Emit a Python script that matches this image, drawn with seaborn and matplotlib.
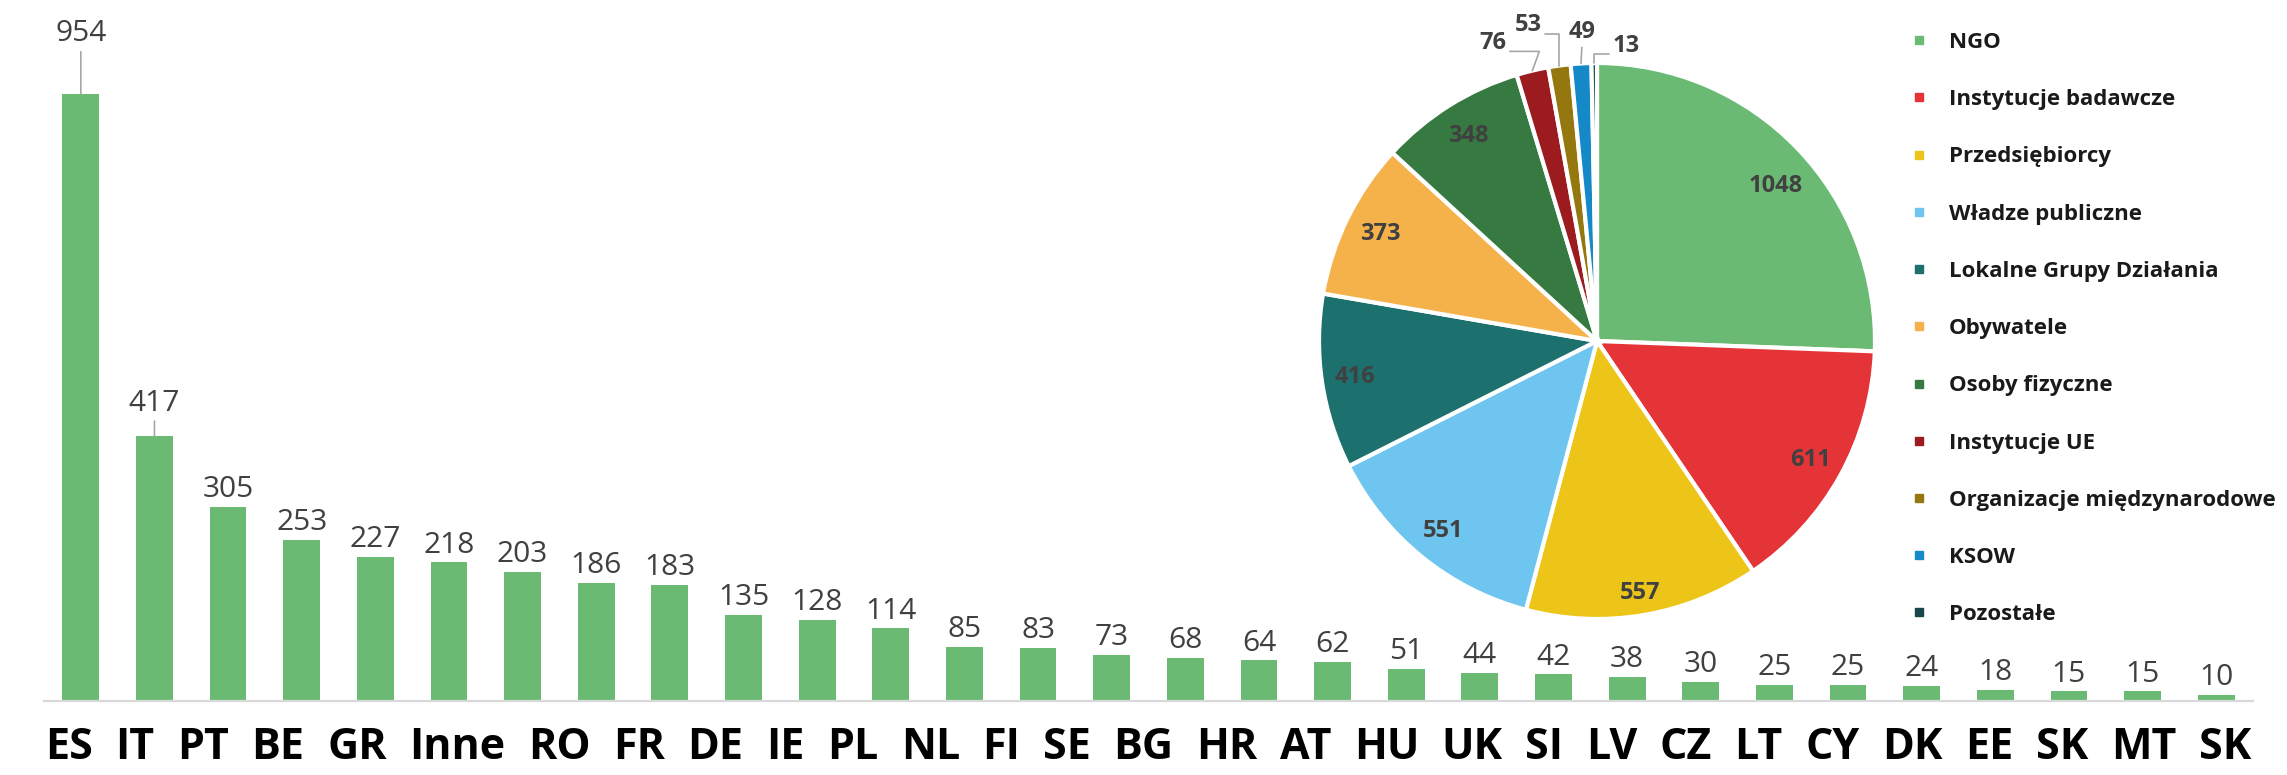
import numpy as np
import pandas as pd
import matplotlib
matplotlib.use("Agg")
import matplotlib.pyplot as plt
from matplotlib.lines import Line2D
import seaborn as sns

# ---------------- data ----------------
# 30 bars, 29 country labels (as in the source chart)
country_labels = ["ES", "IT", "PT", "BE", "GR", "Inne", "RO", "FR", "DE", "IE", "PL", "NL",
                  "FI", "SE", "BG", "HR", "AT", "HU", "UK", "SI", "LV", "CZ", "LT", "CY",
                  "DK", "EE", "SK", "MT", "SK"]
bar_values = [954, 417, 305, 253, 227, 218, 203, 186, 183, 135, 128, 114,
              85, 83, 73, 68, 64, 62, 51, 44, 42, 38, 30, 25, 25, 24, 18, 15, 15, 10]

pie_labels = ["NGO", "Instytucje badawcze", "Przedsiębiorcy", "Władze publiczne",
              "Lokalne Grupy Działania", "Obywatele", "Osoby fizyczne", "Instytucje UE",
              "Organizacje międzynarodowe", "KSOW", "Pozostałe"]
pie_values = [1048, 611, 557, 551, 416, 373, 348, 76, 53, 49, 13]
pie_colors = ["#6BBA74", "#E43438", "#EDC418", "#6EC6F0", "#1C706E", "#F5B24A",
              "#367A41", "#9B1B1E", "#94770E", "#1588C7", "#17474A"]
# ---------------------------------------

sns.set_theme(style="white")
plt.rcParams["font.family"] = ["Open Sans", "DejaVu Sans"]

W, H = 2287, 775
fig = plt.figure(figsize=(W / 100, H / 100), dpi=100)

BAR_COLOR = "#6BBA74"
LABEL_COLOR = "#404040"

# ---------- bar chart ----------
n_bars = len(bar_values)
ax = fig.add_axes([44 / W, 74 / H, 2209 / W, 701 / H])
df = pd.DataFrame({"idx": list(range(n_bars)), "value": bar_values})
sns.barplot(data=df, x="idx", y="value", color=BAR_COLOR, saturation=1,
            width=0.5, ax=ax, linewidth=0)
ax.set_xlim(-0.5, n_bars - 0.5)
ax.set_ylim(0, 1102)
ax.set_xticks(np.arange(len(country_labels)))
ax.set_xticklabels(country_labels, fontsize=31, fontweight="bold", color="black")
ax.tick_params(axis="x", length=0, pad=18)
ax.set_yticks([])
ax.set_xlabel("")
ax.set_ylabel("")
for s in ["top", "right", "left"]:
    ax.spines[s].set_visible(False)
ax.spines["bottom"].set_color("#D9D9D9")
ax.spines["bottom"].set_linewidth(1.6)

# The country names form one row of text with equal gaps, spanning the bars:
# lay the tick labels out by their rendered widths.
fig.canvas.draw()
renderer = fig.canvas.get_renderer()
widths = np.array([t.get_window_extent(renderer).width for t in ax.get_xticklabels()])
first_px, last_px = 69.0, 2225.0
inner = widths.sum() - widths[0] / 2 - widths[-1] / 2
gap = ((last_px - first_px) - inner) / (len(widths) - 1)
centers = [first_px]
for a, b in zip(widths[:-1], widths[1:]):
    centers.append(centers[-1] + a / 2 + gap + b / 2)
inv = ax.transData.inverted()
tick_pos = [inv.transform((c, 0))[0] for c in centers]
ax.set_xticks(tick_pos)
ax.set_xticklabels(country_labels, fontsize=31, fontweight="bold", color="black")

LEADER_LIFT = {0: 38, 1: 18}   # points, for labels moved up with a leader line
for i, v in enumerate(bar_values):
    if i in LEADER_LIFT:
        ax.annotate(str(v), xy=(i, v), xytext=(0, LEADER_LIFT[i]), textcoords="offset points",
                    ha="center", va="baseline", fontsize=21.5, color=LABEL_COLOR,
                    arrowprops=dict(arrowstyle="-", color="#A6A6A6", lw=1.2,
                                    shrinkA=0, shrinkB=0))
    else:
        ax.annotate(str(v), xy=(i, v), xytext=(0, 7), textcoords="offset points",
                    ha="center", va="baseline", fontsize=21.5, color=LABEL_COLOR)

# ---------- pie chart ----------
R = 278
cx, cy = 1597, 341
pax = fig.add_axes([(cx - R) / W, (H - cy - R) / H, 2 * R / W, 2 * R / H])
wedges, _ = pax.pie(pie_values, colors=pie_colors, startangle=90, counterclock=False,
                    wedgeprops=dict(edgecolor="white", linewidth=3))
pax.set_xlim(-1, 1)
pax.set_ylim(-1, 1)
pax.axis("off")

INSIDE_R = [0.85, 0.88, 0.92, 0.88, 0.88, 0.87, 0.87]   # label distance per inner slice
for k, w in enumerate(wedges[:len(INSIDE_R)]):
    ang = np.deg2rad((w.theta1 + w.theta2) / 2)
    if k == 0:
        ang -= np.deg2rad(3)
    r = INSIDE_R[k]
    pax.text(r * np.cos(ang), r * np.sin(ang), str(pie_values[k]), ha="center", va="center",
             fontsize=17, fontweight="bold", color=LABEL_COLOR)

# outer labels for small slices (label position in pie radius units, line anchor, connection)
OUTER = {
    7: ((-0.374, 1.072), (1.0, 0.15), "angle,angleA=0,angleB=70,rad=0"),
    8: ((-0.248, 1.136), (1.0, 0.15), "angle,angleA=0,angleB=90,rad=0"),
    9: ((-0.054, 1.111), (0.5, 0.0), "arc3"),
    10: ((0.104, 1.061), (0.0, 0.15), "angle,angleA=0,angleB=90,rad=0"),
}
for k, (pos, rel, conn) in OUTER.items():
    w = wedges[k]
    ang = np.deg2rad((w.theta1 + w.theta2) / 2)
    pax.annotate(str(pie_values[k]), xy=(np.cos(ang), np.sin(ang)), xytext=pos,
                 ha="center", va="center", fontsize=17, fontweight="bold",
                 color=LABEL_COLOR, annotation_clip=False,
                 arrowprops=dict(arrowstyle="-", color="#A6A6A6", lw=1.2,
                                 shrinkA=0, shrinkB=0, relpos=rel,
                                 connectionstyle=conn))

# ---------- legend ----------
handles = [Line2D([0], [0], marker="s", linestyle="none", markersize=6,
                  markerfacecolor=c, markeredgecolor=c) for c in pie_colors]
leg = fig.legend(handles, pie_labels, loc="upper left",
                 bbox_to_anchor=(1910 / W, 1 - 32 / H), frameon=False,
                 fontsize=16, labelspacing=1.63, handlelength=0.8,
                 handletextpad=0.95, borderpad=0, borderaxespad=0)
for t in leg.get_texts():
    t.set_fontweight("bold")
    t.set_color("#1A1A1A")

fig.savefig("out.png", dpi=100)
